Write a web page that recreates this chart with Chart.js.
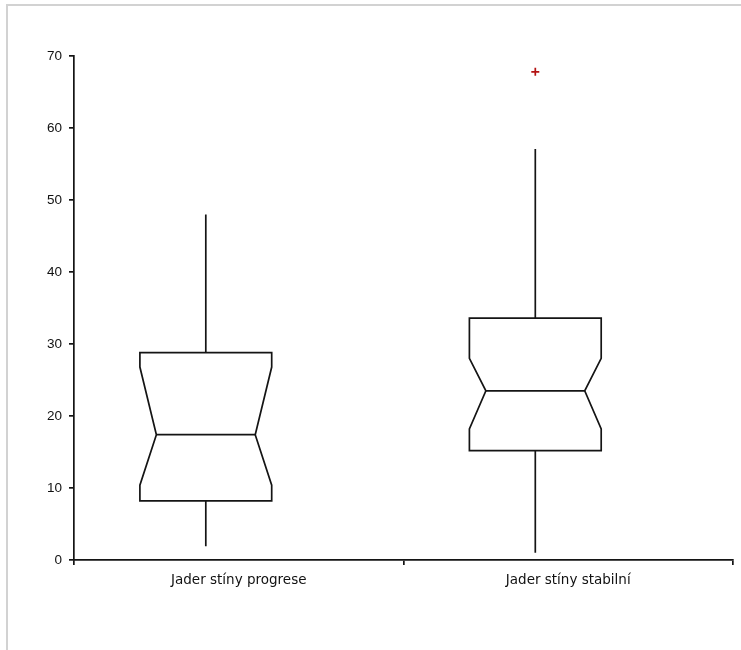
<!DOCTYPE html>
<html>
<head>
<meta charset="utf-8">
<script src="https://cdn.jsdelivr.net/npm/chart.js@4/dist/chart.umd.min.js"></script>
<style>
  html, body { margin: 0; padding: 0; background: #fff; }
  #wrap { position: relative; width: 741px; height: 650px; }
</style>
</head>
<body>
<div id="wrap"><canvas id="c" width="741" height="650"></canvas></div>
<script>
// Box-plot summary for each group (values on the y scale)
const categories  = ['Jader stíny progrese', 'Jader stíny stabilní'];
const whiskerLow  = [1.9, 1.0];
const q1          = [8.2, 15.2];
const notchLow    = [10.4, 18.2];
const median      = [17.4, 23.5];
const notchHigh   = [26.8, 28.0];
const q3          = [28.8, 33.6];
const whiskerHigh = [48.0, 57.1];
const outliers    = [[], [67.8]];
const yTicks      = [0, 10, 20, 30, 40, 50, 60, 70];

// Placement of each box inside its category slot (x units)
const BOX_CENTER = 0.4;
const BOX_HALF = 0.2;
const NOTCH_INSET = 0.05;

const LINE = '#141414';

const outlierPoints = [];
outliers.forEach((vals, i) => vals.forEach(v => outlierPoints.push({ x: i + BOX_CENTER, y: v })));

// Outer frame of the figure
const framePlugin = {
  id: 'frame',
  beforeDraw(chart) {
    const ctx = chart.ctx;
    ctx.save();
    ctx.strokeStyle = '#d2d2d2';
    ctx.lineWidth = 2;
    ctx.beginPath();
    ctx.moveTo(7, 650);
    ctx.lineTo(7, 5);
    ctx.lineTo(741, 5);
    ctx.stroke();
    ctx.restore();
  }
};

// Notched boxes and whiskers drawn through the chart's scales
const boxPlugin = {
  id: 'notchedBoxes',
  afterDatasetsDraw(chart) {
    const xs = chart.scales.x, ys = chart.scales.y, ctx = chart.ctx;
    ctx.save();
    ctx.strokeStyle = LINE;
    ctx.lineWidth = 1.7;
    ctx.lineJoin = 'miter';
    categories.forEach((_, i) => {
      const c = i + BOX_CENTER;
      const xl = xs.getPixelForValue(c - BOX_HALF);
      const xr = xs.getPixelForValue(c + BOX_HALF);
      const xnl = xs.getPixelForValue(c - BOX_HALF + NOTCH_INSET);
      const xnr = xs.getPixelForValue(c + BOX_HALF - NOTCH_INSET);
      const xc = xs.getPixelForValue(c);
      const yq1 = ys.getPixelForValue(q1[i]);
      const yq3 = ys.getPixelForValue(q3[i]);
      const ynl = ys.getPixelForValue(notchLow[i]);
      const ynh = ys.getPixelForValue(notchHigh[i]);
      const ym = ys.getPixelForValue(median[i]);
      // box outline with notch
      ctx.beginPath();
      ctx.moveTo(xl, yq3);
      ctx.lineTo(xr, yq3);
      ctx.lineTo(xr, ynh);
      ctx.lineTo(xnr, ym);
      ctx.lineTo(xr, ynl);
      ctx.lineTo(xr, yq1);
      ctx.lineTo(xl, yq1);
      ctx.lineTo(xl, ynl);
      ctx.lineTo(xnl, ym);
      ctx.lineTo(xl, ynh);
      ctx.closePath();
      ctx.stroke();
      // median
      ctx.beginPath();
      ctx.moveTo(xnl, ym);
      ctx.lineTo(xnr, ym);
      ctx.stroke();
      // whiskers
      ctx.beginPath();
      ctx.moveTo(xc, yq3);
      ctx.lineTo(xc, ys.getPixelForValue(whiskerHigh[i]));
      ctx.moveTo(xc, yq1);
      ctx.lineTo(xc, ys.getPixelForValue(whiskerLow[i]));
      ctx.stroke();
    });
    ctx.restore();
  }
};

new Chart(document.getElementById('c'), {
  type: 'scatter',
  data: {
    datasets: [{
      data: outlierPoints,
      pointStyle: 'cross',
      radius: 4,
      borderWidth: 1.7,
      borderColor: '#b31212',
      backgroundColor: '#b31212'
    }]
  },
  options: {
    responsive: false,
    animation: false,
    events: [],
    layout: { padding: { left: 0, right: 8, top: 56, bottom: 50 } },
    plugins: { legend: { display: false }, tooltip: { enabled: false } },
    scales: {
      x: {
        type: 'linear',
        min: 0,
        max: 2,
        afterBuildTicks(scale) {
          scale.ticks = [0, 0.5, 1, 1.5, 2].map(v => ({ value: v }));
        },
        afterFit(scale) { scale.height = 40; },
        border: { display: true, color: LINE, width: 1.7 },
        grid: {
          drawOnChartArea: false,
          drawTicks: true,
          tickLength: 5,
          lineWidth: 1.7,
          color: ctx => (ctx.tick && Number.isInteger(ctx.tick.value)) ? LINE : 'rgba(0,0,0,0)'
        },
        ticks: {
          autoSkip: false,
          maxRotation: 0,
          minRotation: 0,
          padding: 7,
          color: '#111',
          font: { family: 'DejaVu Sans', size: 13.5 },
          callback: v => Number.isInteger(v) ? '' : categories[Math.floor(v)]
        }
      },
      y: {
        min: 0,
        max: 70,
        afterBuildTicks(scale) {
          scale.ticks = yTicks.map(v => ({ value: v }));
        },
        afterFit(scale) { scale.width = 74; },
        border: { display: true, color: LINE, width: 1.7 },
        grid: {
          drawOnChartArea: false,
          drawTicks: true,
          tickLength: 5,
          lineWidth: 1.7,
          color: LINE
        },
        ticks: {
          padding: 7,
          color: '#111',
          font: { family: 'Liberation Sans', size: 13.5 }
        }
      }
    }
  },
  plugins: [framePlugin, boxPlugin]
});
</script>
</body>
</html>
